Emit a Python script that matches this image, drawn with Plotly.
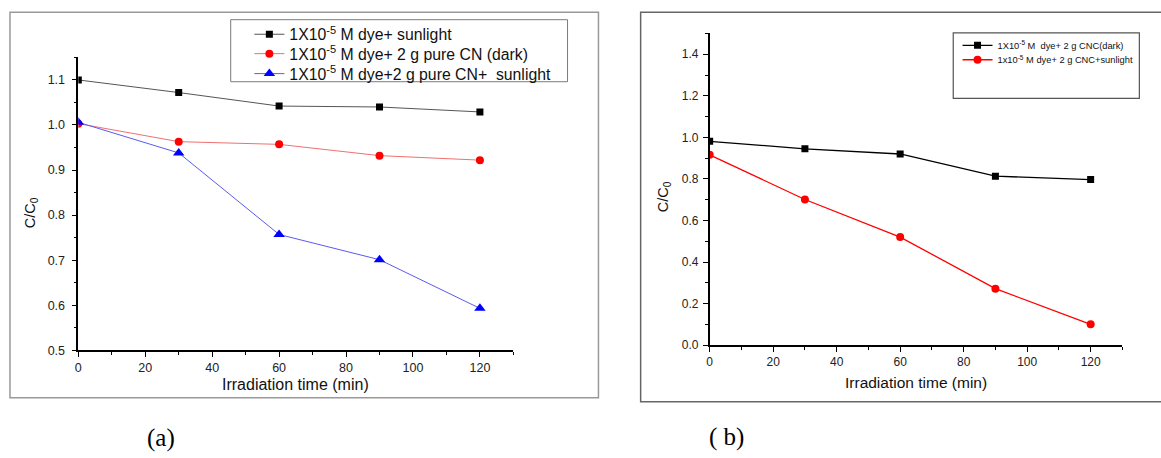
import plotly.graph_objects as go

# ---------------- data ----------------
time_min = [0, 30, 60, 90, 120]

a_dye_sunlight = [1.100, 1.072, 1.042, 1.040, 1.029]
a_dye_cn_dark = [1.003, 0.963, 0.957, 0.932, 0.922]
a_dye_cn_sunlight = [1.006, 0.938, 0.757, 0.701, 0.593]

b_dye_cnc_dark = [0.981, 0.945, 0.920, 0.813, 0.797]
b_dye_cnc_sunlight = [0.916, 0.701, 0.520, 0.272, 0.100]

a_names = ["1X10<sup>-5</sup> M dye+ sunlight",
           "1X10<sup>-5</sup> M dye+ 2 g pure CN (dark)",
           "1X10<sup>-5</sup> M dye+2 g pure CN+  sunlight"]
b_names = ["1X10<sup>-5</sup> M  dye+ 2 g CNC(dark)",
           "1x10<sup>-5</sup> M dye+ 2 g CNC+sunlight"]

x_tick_vals = [0, 20, 40, 60, 80, 100, 120]
a_y_ticks = [0.5, 0.6, 0.7, 0.8, 0.9, 1.0, 1.1]
b_y_ticks = [0.0, 0.2, 0.4, 0.6, 0.8, 1.0, 1.2, 1.4]

# ---------------- layout helpers ----------------
W, H = 1161, 458
FONT = "Liberation Sans, Arial, sans-serif"
SERIF = "Liberation Serif, Times New Roman, serif"


def px(x):
    return x / W


def py(y):
    return 1 - y / H


fig = go.Figure()

# panel (a)
fig.add_trace(go.Scatter(x=time_min, y=a_dye_sunlight, name=a_names[0], mode="lines+markers",
                         line=dict(color="#555555", width=1),
                         marker=dict(symbol="square", size=7, color="black"),
                         xaxis="x", yaxis="y", legend="legend"))
fig.add_trace(go.Scatter(x=time_min, y=a_dye_cn_dark, name=a_names[1], mode="lines+markers",
                         line=dict(color="#f07070", width=1),
                         marker=dict(symbol="circle", size=8, color="#ff0000"),
                         xaxis="x", yaxis="y", legend="legend2"))
fig.add_trace(go.Scatter(x=time_min, y=a_dye_cn_sunlight, name=a_names[2], mode="lines+markers",
                         line=dict(color="#5a5af0", width=1),
                         marker=dict(symbol="triangle-up", size=10, color="#0000ff"),
                         xaxis="x", yaxis="y", legend="legend3"))

# panel (b)
fig.add_trace(go.Scatter(x=time_min, y=b_dye_cnc_dark, name=b_names[0], mode="lines+markers",
                         line=dict(color="black", width=1.3),
                         marker=dict(symbol="square", size=7, color="black"),
                         xaxis="x2", yaxis="y2", legend="legend4"))
fig.add_trace(go.Scatter(x=time_min, y=b_dye_cnc_sunlight, name=b_names[1], mode="lines+markers",
                         line=dict(color="#ff0000", width=1.3),
                         marker=dict(symbol="circle", size=8, color="#ff0000"),
                         xaxis="x2", yaxis="y2", legend="legend5"))


def axis_style(size):
    return dict(showline=True, linecolor="black", linewidth=1.5, ticks="outside",
                ticklen=5, tickwidth=1, tickcolor="black", showgrid=False, zeroline=False,
                mirror=False, tickfont=dict(family=FONT, size=size, color="#222222"))


def legend_at(x, y, size):
    return dict(x=px(x), y=py(y), xanchor="left", yanchor="middle",
                bgcolor="rgba(0,0,0,0)", borderwidth=0,
                font=dict(family=FONT, size=size, color="#111111"))


fig.update_layout(
    width=W, height=H,
    margin=dict(l=0, r=0, t=0, b=0),
    paper_bgcolor="white", plot_bgcolor="white",
    font=dict(family=FONT, color="#222222"),
    xaxis=dict(domain=[px(75.5), px(511.7)], range=[0, 130], anchor="y",
               tickvals=x_tick_vals,
               minor=dict(ticks="outside", ticklen=3, dtick=10, tick0=0, tickcolor="black"),
               **axis_style(12.5)),
    yaxis=dict(domain=[py(355.7), py(58.3)], range=[0.5, 1.15], anchor="x",
               tickvals=a_y_ticks, tickformat=".1f", ticklabelstandoff=4,
               minor=dict(ticks="outside", ticklen=3, dtick=0.05, tick0=0.5, tickcolor="black"),
               **axis_style(12.5)),
    xaxis2=dict(domain=[px(708.5), px(1122.3)], range=[0, 130], anchor="y2",
                tickvals=x_tick_vals,
                minor=dict(ticks="outside", ticklen=3, dtick=10, tick0=0, tickcolor="black"),
                **axis_style(12)),
    yaxis2=dict(domain=[py(350.5), py(34)], range=[0, 1.5], anchor="x2",
                tickvals=b_y_ticks, tickformat=".1f", ticklabelstandoff=2,
                minor=dict(ticks="outside", ticklen=3, dtick=0.1, tick0=0, tickcolor="black"),
                **axis_style(12)),
    legend=legend_at(247, 35, 15.8),
    legend2=legend_at(247, 54.7, 15.8),
    legend3=legend_at(247, 75, 15.8),
    legend4=legend_at(957, 46, 9.3),
    legend5=legend_at(957, 60.7, 9.3),
    showlegend=True,
)

# frames and legend boxes
shapes = [
    dict(type="rect", xref="paper", yref="paper", x0=px(7), x1=px(597), y0=py(404), y1=py(12.5),
         line=dict(color="#999999", width=1.5)),
    dict(type="rect", xref="paper", yref="paper", x0=px(639.3), x1=px(1164), y0=py(408), y1=py(12.5),
         line=dict(color="#666666", width=1.5)),
    dict(type="rect", xref="paper", yref="paper", x0=px(228.3), x1=px(566), y0=py(83), y1=py(20),
         line=dict(color="#7a7a7a", width=1)),
    dict(type="rect", xref="paper", yref="paper", x0=px(952.7), x1=px(1139.3), y0=py(100), y1=py(33.3),
         line=dict(color="#555555", width=1.2)),
]
fig.update_layout(shapes=shapes)

ann_common = dict(xref="paper", yref="paper", showarrow=False, xanchor="center", yanchor="middle")
annotations = [
    dict(text="Irradiation time (min)", x=px(293.7), y=py(390.7),
         font=dict(family=FONT, size=16, color="#111111"), **ann_common),
    dict(text="Irradiation time (min)", x=px(915.7), y=py(388),
         font=dict(family=FONT, size=15.5, color="#111111"), **ann_common),
    dict(text="C/C<sub>0</sub>", x=px(27.5), y=py(216), textangle=-90,
         font=dict(family=FONT, size=14.5, color="#111111"), **ann_common),
    dict(text="C/C<sub>0</sub>", x=px(663), y=py(200), textangle=-90,
         font=dict(family=FONT, size=14.5, color="#111111"), **ann_common),
    dict(text="(a)", x=px(158), y=py(445), font=dict(family=SERIF, size=25, color="black"),
         **ann_common),
    dict(text="( b)", x=px(725), y=py(444), font=dict(family=SERIF, size=25, color="black"),
         **ann_common),
]
fig.update_layout(annotations=annotations)

post = (
    "var s=document.createElement('style');"
    "s.textContent='html,body{margin:0;padding:0;overflow:hidden;width:1161px;height:458px;}"
    ".plotly-graph-div{position:fixed!important;top:0;left:0;}';"
    "document.head.appendChild(s);"
)

fig.write_html("out.html", config={"displayModeBar": False}, post_script=post)
